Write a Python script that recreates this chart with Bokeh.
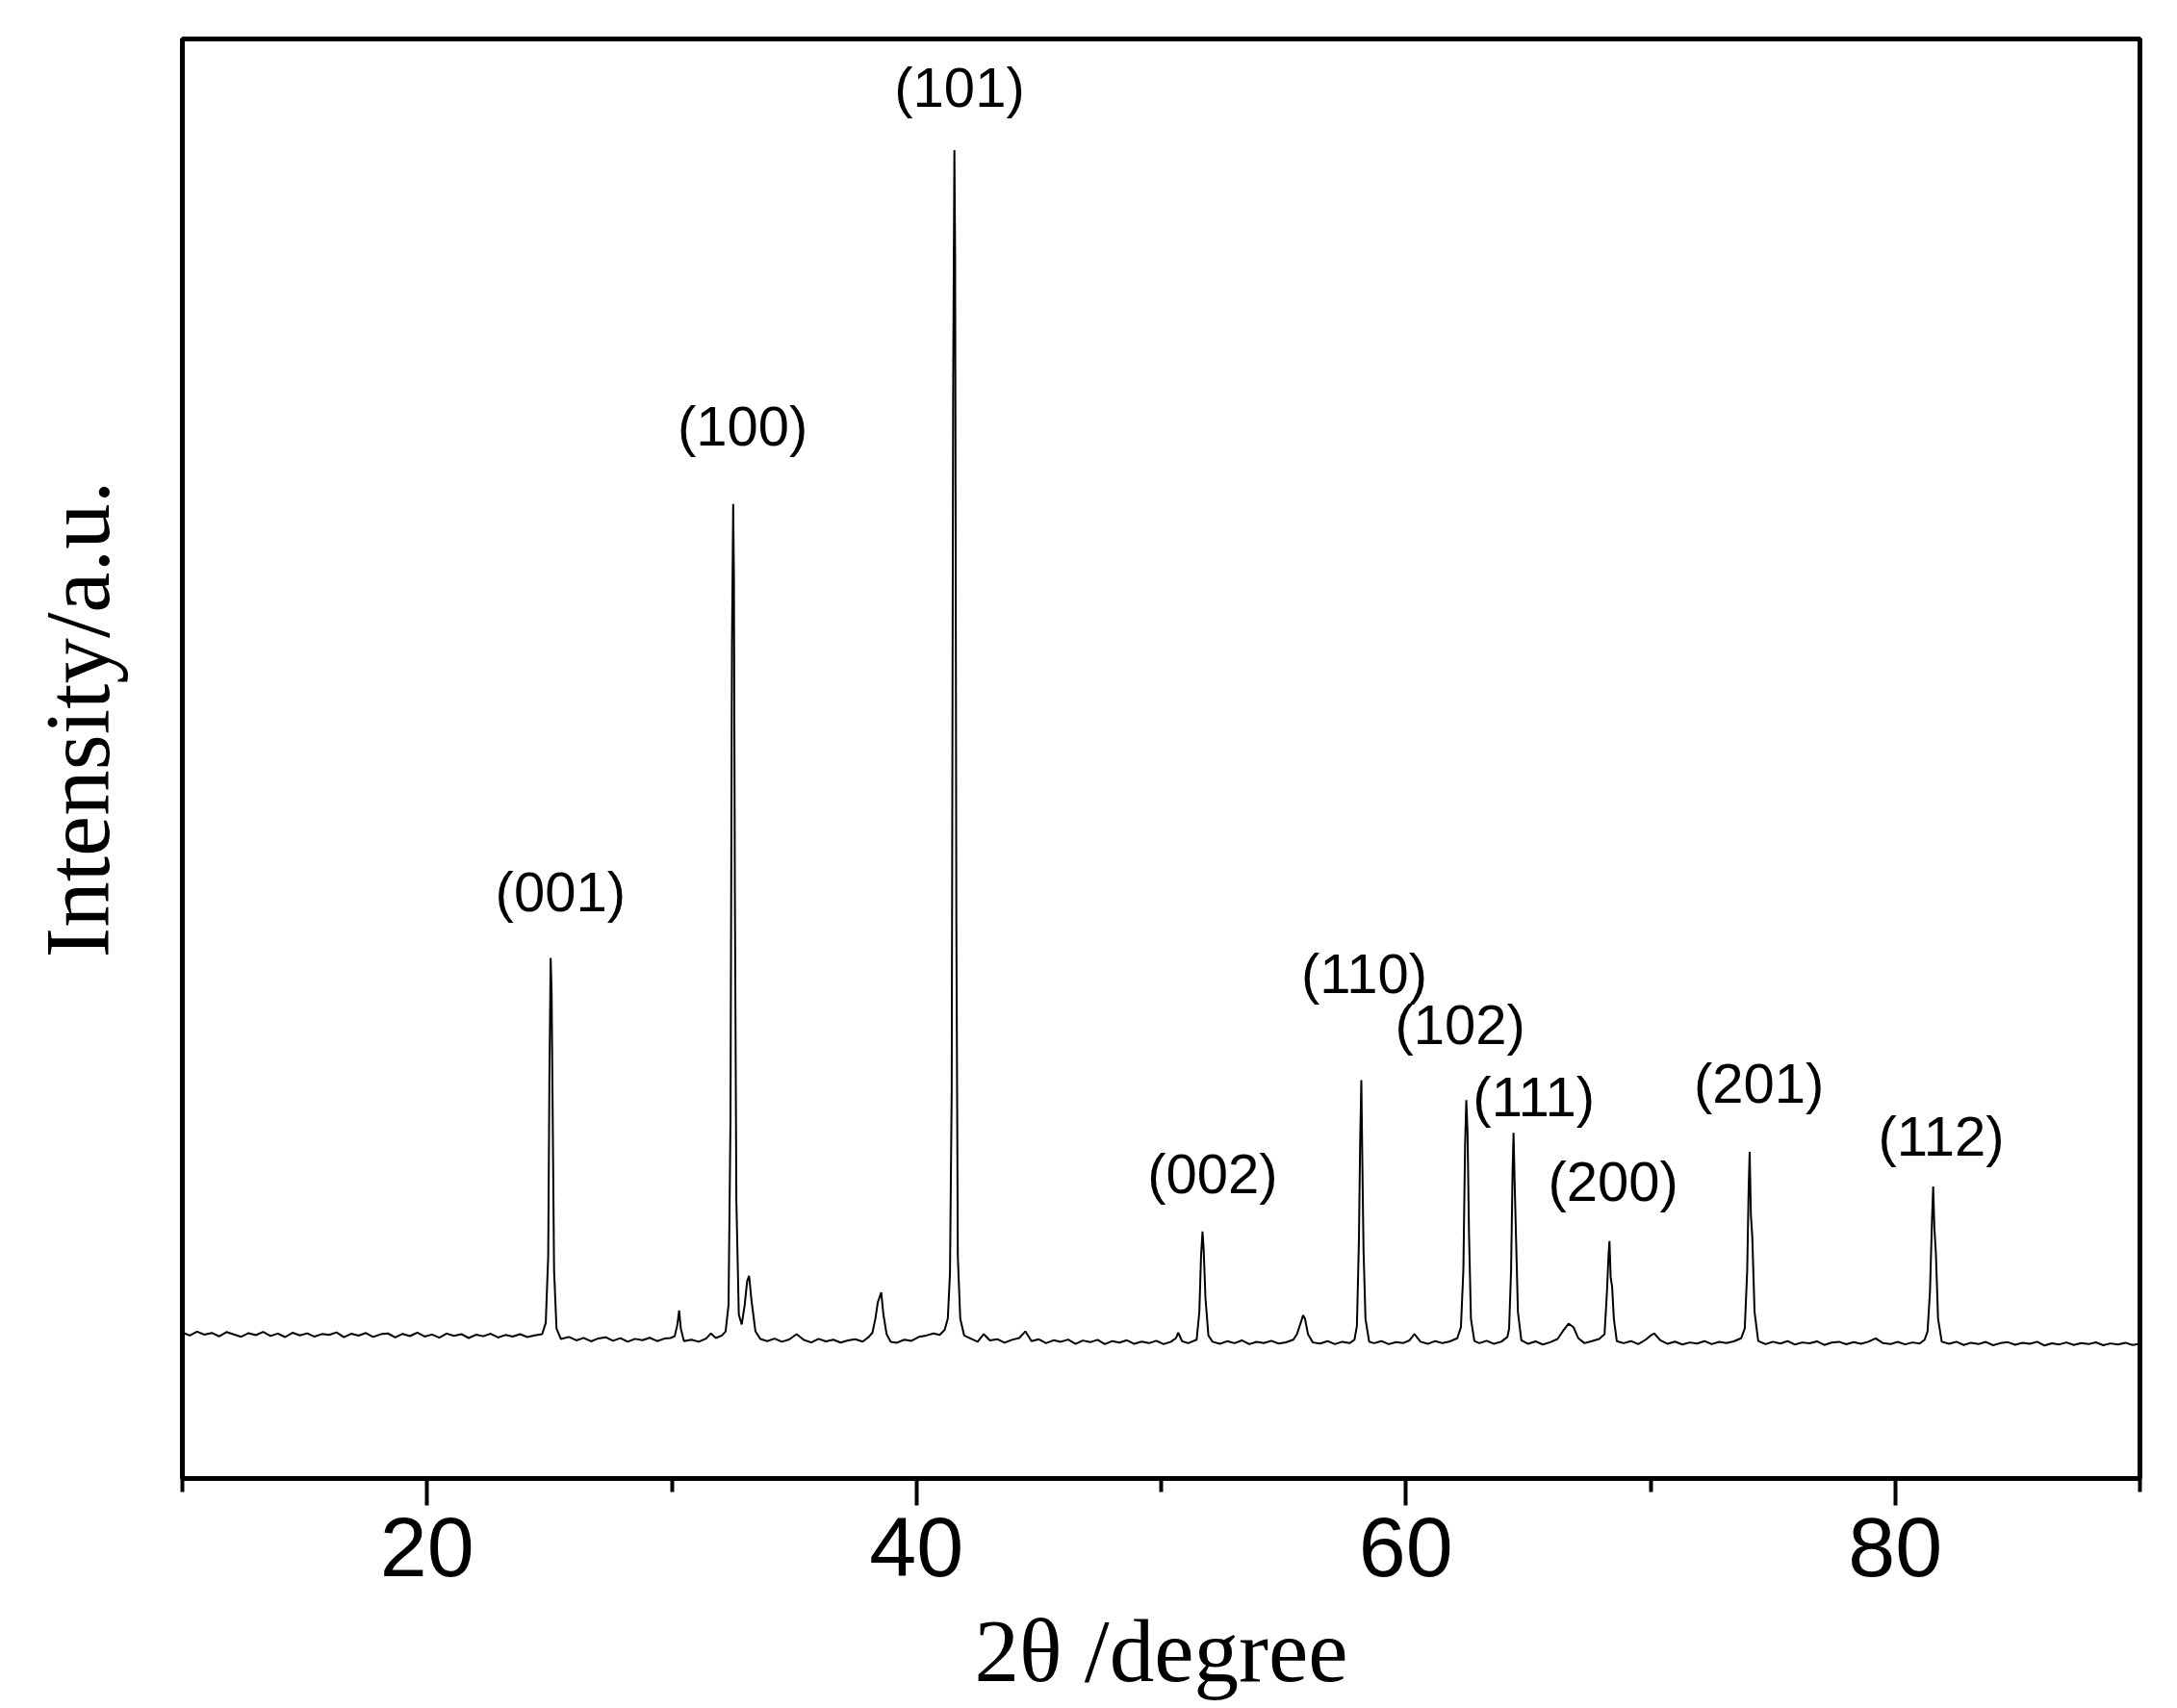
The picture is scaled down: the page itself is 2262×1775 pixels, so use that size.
from bokeh.plotting import figure
from bokeh.models import ColumnDataSource, FixedTicker, Range1d, Title
from bokeh.core.properties import value
from bokeh.embed import file_html
from bokeh.resources import INLINE

# ---------------- data ----------------
two_theta = [
    10.0, 10.3, 10.6, 10.9, 11.2, 11.5, 11.8, 12.1, 12.4, 12.7, 13.0, 13.3, 13.6, 13.9, 14.2, 14.5,
    14.8, 15.1, 15.4, 15.7, 16.0, 16.3, 16.6, 16.9, 17.2, 17.5, 17.8, 18.1, 18.4, 18.7, 19.0, 19.3,
    19.6, 19.9, 20.2, 20.5, 20.8, 21.1, 21.4, 21.7, 22.0, 22.3, 22.6, 22.9, 23.2, 23.5, 23.8, 24.1, 24.4,
    24.7, 24.85, 24.95, 25.0, 25.05, 25.09, 25.13, 25.19, 25.29, 25.47,
    25.8, 26.1, 26.4, 26.7, 27.0, 27.3, 27.6, 27.9, 28.2, 28.5, 28.8, 29.1, 29.4, 29.7, 29.95,
    30.12, 30.23, 30.3, 30.37, 30.5,
    30.8, 31.1, 31.4, 31.6, 31.8, 32.05, 32.2,
    32.32, 32.4, 32.46, 32.51, 32.54, 32.58, 32.64, 32.74, 32.86, 32.98, 33.08, 33.16, 33.26, 33.42, 33.62,
    33.9, 34.2, 34.5, 34.8, 35.1, 35.4, 35.7, 36.0, 36.3, 36.6, 36.9, 37.2, 37.5, 37.8, 38.05,
    38.2, 38.32, 38.42, 38.5, 38.56, 38.65, 38.78, 38.95,
    39.2, 39.5, 39.8, 40.1, 40.4, 40.7, 40.95, 41.15,
    41.28, 41.37, 41.44, 41.5, 41.55, 41.58, 41.63, 41.69, 41.79, 41.95,
    42.2, 42.5, 42.75, 43.0, 43.3, 43.6, 43.9, 44.2, 44.45, 44.7, 45.0, 45.3, 45.6, 45.9, 46.2, 46.5,
    46.8, 47.1, 47.4, 47.7, 48.0, 48.3, 48.6, 48.9, 49.2, 49.5, 49.8, 50.1, 50.4,
    50.6, 50.7, 50.85,
    51.1, 51.45, 51.56, 51.63, 51.69, 51.74, 51.81, 51.93, 52.1,
    52.4, 52.7, 53.0, 53.3, 53.6, 53.9, 54.2, 54.5, 54.8, 55.1, 55.4,
    55.55, 55.7, 55.8, 55.88, 56.0, 56.2,
    56.5, 56.8, 57.1, 57.4, 57.7, 57.9,
    58.0, 58.08, 58.13, 58.18, 58.22, 58.27, 58.35, 58.5,
    58.7, 59.0, 59.3, 59.6, 59.9, 60.15, 60.35, 60.6, 60.9, 61.2, 61.5, 61.8, 62.1,
    62.25, 62.35, 62.42, 62.47, 62.52, 62.58, 62.66, 62.8,
    63.0, 63.3, 63.6, 63.9, 64.15,
    64.22, 64.3, 64.36, 64.4, 64.45, 64.5, 64.58, 64.72,
    65.0, 65.3, 65.6, 65.9, 66.2, 66.45, 66.65, 66.85, 67.05, 67.3, 67.6, 67.9,
    68.12, 68.22, 68.28, 68.32, 68.37, 68.43, 68.5, 68.62,
    68.9, 69.2, 69.5, 69.8, 70.0, 70.15, 70.4, 70.7, 71.0, 71.3, 71.6, 71.9, 72.2, 72.5, 72.8, 73.1, 73.4, 73.7,
    73.85, 73.95, 74.01, 74.05, 74.1, 74.16, 74.25, 74.4,
    74.7, 75.0, 75.3, 75.6, 75.9, 76.2, 76.5, 76.8, 77.1, 77.4, 77.7, 78.0, 78.3, 78.6, 78.9, 79.2,
    79.5, 79.8, 80.1, 80.4, 80.7, 81.0, 81.2,
    81.32, 81.42, 81.5, 81.55, 81.6, 81.66, 81.75, 81.9,
    82.2, 82.5, 82.8, 83.1, 83.4, 83.7, 84.0, 84.3, 84.6, 84.9, 85.2, 85.5, 85.8, 86.1, 86.4, 86.7,
    87.0, 87.3, 87.6, 87.9, 88.2, 88.5, 88.8, 89.1, 89.4, 89.7, 90.0,
]

counts = [
    1052, 1030, 1058, 1036, 1049, 1024, 1055, 1038, 1021, 1047, 1033, 1056, 1027, 1044, 1019, 1050,
    1031, 1046, 1022, 1041, 1035, 1053, 1018, 1043, 1029, 1048, 1020, 1039, 1045, 1017, 1042, 1026,
    1051, 1023, 1037, 1015, 1044, 1028, 1040, 1012, 1036, 1025, 1043, 1016, 1034, 1022, 1040, 1019, 1031,
    1040, 1120, 1600, 2900, 3750, 3500, 2700, 1500, 1080, 1005,
    1020, 995, 1013, 988, 1009, 1018, 992, 1011, 985, 1006, 996, 1014, 990, 1008, 1012,
    1025, 1110, 1210, 1080, 990,
    1000, 985, 1008, 1045, 1012, 1030, 1060,
    1250, 2600, 6000, 7020, 6500, 4200, 2000, 1180, 1110, 1250, 1420, 1460, 1280, 1060, 1005,
    990, 1008, 985, 1002, 1040, 998, 980, 1006, 988, 1000, 979, 995, 1003, 986, 1020,
    1050, 1150, 1270, 1310, 1340, 1180, 1040, 985,
    978, 1000, 992, 1020, 1030, 1045, 1035, 1070,
    1150, 1480, 2800, 7900, 9570, 8800, 4000, 1600, 1150, 1030,
    1010, 985, 1040, 995, 1004, 978, 999, 1012, 1060, 990, 1003, 975, 996, 985, 1001, 970,
    994, 982, 999, 968, 990, 979, 996, 970, 986, 975, 992, 968, 985,
    1010, 1050, 990,
    975, 1000, 1200, 1600, 1780, 1640, 1300, 1030, 985,
    970, 989, 975, 995, 968, 984, 976, 992, 972, 981, 1000,
    1040, 1120, 1176, 1150, 1040, 980,
    972, 990, 968, 985, 975, 1000,
    1100, 1700, 2400, 2870, 2300, 1650, 1150, 985,
    975, 990, 968, 982, 976, 995, 1040, 985, 970, 990, 975, 988, 1010,
    1090, 1500, 2400, 2725, 2500, 1770, 1150, 990,
    975, 992, 970, 985, 1020,
    1080, 1500, 2200, 2490, 2100, 1750, 1200, 995,
    970, 988, 965, 982, 1005, 1070, 1115, 1090, 1010, 975, 990, 1005,
    1040, 1350, 1600, 1710, 1450, 1380, 1150, 990,
    975, 990, 968, 1000, 1030, 1045, 995, 970, 986, 965, 980, 972, 990, 968, 984, 975, 988, 1010,
    1080, 1500, 2100, 2353, 1900, 1730, 1200, 990,
    968, 985, 972, 990, 965, 980, 974, 988, 962, 979, 985, 967, 982, 970, 985, 1010,
    975, 968, 984, 966, 980, 972, 1000,
    1060, 1350, 1850, 2103, 1800, 1625, 1150, 985,
    970, 985, 962, 978, 968, 984, 960, 975, 982, 964, 977, 970, 985, 958, 974, 966,
    980, 962, 976, 968, 981, 960, 973, 965, 978, 962, 970,
]

peak_labels = ["(001)", "(100)", "(101)", "(002)", "(110)", "(102)", "(111)", "(200)", "(201)", "(112)"]
label_2theta = [25.45, 32.90, 41.76, 52.10, 58.30, 62.22, 65.23, 68.47, 74.43, 81.88]
label_counts = [4230, 7580, 10020, 2200, 3640, 3270, 2750, 2140, 2850, 2470]

x_major_ticks = [20, 40, 60, 80]
x_minor_ticks = [10, 30, 50, 70, 90]
x_limits = (10, 90)
y_limits = (0, 10370)

x_title = "2\u03b8 /degree"
y_title = "Intensity/a.u."

# ---------------- figure ----------------
p = figure(
    width=2260, height=1773,
    x_range=Range1d(*x_limits), y_range=Range1d(*y_limits),
    output_backend="svg", toolbar_location=None,
    min_border_left=189, min_border_top=40, min_border_right=37, min_border_bottom=237,
)
p.background_fill_color = "white"
p.border_fill_color = "white"
p.outline_line_color = "black"
p.outline_line_width = 5
p.grid.visible = False

xa = p.xaxis[0]
xa.ticker = FixedTicker(ticks=x_major_ticks, minor_ticks=x_minor_ticks)
xa.axis_line_width = 5
xa.axis_line_color = "black"
xa.major_tick_in = 0
xa.major_tick_out = 28
xa.minor_tick_in = 0
xa.minor_tick_out = 14
xa.major_tick_line_width = 4
xa.minor_tick_line_width = 4
xa.major_tick_line_color = "black"
xa.minor_tick_line_color = "black"
xa.major_label_text_font = "Liberation Sans"
xa.major_label_text_font_size = "88px"
xa.major_label_text_color = "black"
xa.major_label_standoff = 13
xa.axis_label = x_title
xa.axis_label_text_font = "Liberation Serif"
xa.axis_label_text_font_style = "normal"
xa.axis_label_text_font_size = "93px"
xa.axis_label_text_color = "black"
xa.axis_label_standoff = 23

# the left axis only acts as an invisible spacer between the frame and the vertical title
ya = p.yaxis[0]
ya.ticker = FixedTicker(ticks=[5000], minor_ticks=[])
ya.major_label_overrides = {5000: ""}
ya.major_label_text_font_size = "1px"
ya.major_label_standoff = 0
ya.axis_line_color = None
ya.major_tick_line_color = None
ya.minor_tick_line_color = None
ya.major_tick_in = 0
ya.major_tick_out = 56
ya.minor_tick_in = 0
ya.minor_tick_out = 0

p.add_layout(Title(text=y_title, text_font="Liberation Serif", text_font_style="normal",
                   text_font_size="95px", text_color="black", align="left", offset=541,
                   vertical_align="bottom", standoff=0), "left")

src = ColumnDataSource(dict(x=two_theta, y=counts))
p.line("x", "y", source=src, line_color="black", line_width=2)

lsrc = ColumnDataSource(dict(x=label_2theta, y=label_counts, t=peak_labels))
p.text("x", "y", text="t", source=lsrc, text_font=value("Liberation Sans"),
       text_font_size="58px", text_align="center", text_baseline="middle", text_color="black")

open("out.html", "w").write(file_html(p, INLINE))
